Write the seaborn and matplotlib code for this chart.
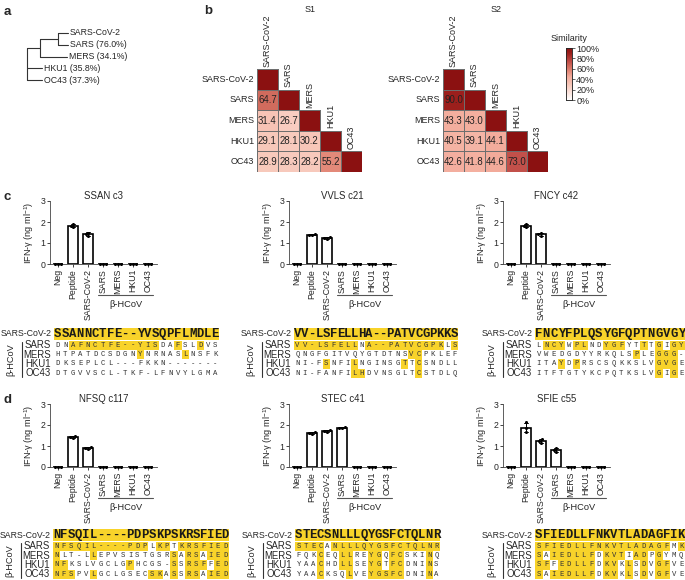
import numpy as np
import pandas as pd
import seaborn as sns
import matplotlib.pyplot as plt
from matplotlib.colors import LinearSegmentedColormap, ListedColormap, to_rgba
from matplotlib.transforms import blended_transform_factory

sns.set_style('ticks')
plt.rcParams['font.family'] = ['Liberation Sans', 'DejaVu Sans']
plt.rcParams['mathtext.fontset'] = 'custom'
plt.rcParams['mathtext.rm'] = 'Liberation Sans'
plt.rcParams['mathtext.default'] = 'regular'

# ---- a: tree (name, branch length, children) ----
tree = ('', 0, [
    ('', 13, [
        ('', 18, [('SARS-CoV-2', 10, []), ('SARS (76.0%)', 10, [])]),
        ('MERS (34.1%)', 27, []),
    ]),
    ('HKU1 (35.8%)', 15, []),
    ('OC43 (37.3%)', 15, []),
])

# ---- b: S1 / S2 similarity (lower triangle) ----
strains = ['SARS-CoV-2', 'SARS', 'MERS', 'HKU1', 'OC43']
s1_rows = [[100], [64.7, 100], [31.4, 26.7, 100], [29.1, 28.1, 30.2, 100],
           [28.9, 28.3, 28.2, 55.2, 100]]
s2_rows = [[100], [90.0, 100], [43.3, 43.0, 100], [40.5, 39.1, 44.1, 100],
           [42.6, 41.8, 44.6, 73.0, 100]]
sim_ticks = [0, 20, 40, 60, 80, 100]

# ---- c/d: IFN-g responses, 3 replicates per condition ----
conds = ['Neg', 'Peptide', 'SARS-CoV-2', 'SARS', 'MERS', 'HKU1', 'OC43']
z = [0, 0, 0]
ssan = [z, [1.74, 1.82, 1.90], [1.33, 1.42, 1.50], z, z, z, z]
vvls = [z, [1.36, 1.39, 1.42], [1.20, 1.25, 1.29], z, z, z, z]
fncy = [z, [1.75, 1.83, 1.90], [1.35, 1.42, 1.50], z, z, z, z]
nfsq = [z, [1.38, 1.43, 1.49], [0.88, 0.92, 0.97], z, z, z, z]
stec = [z, [1.58, 1.63, 1.68], [1.66, 1.70, 1.74], [1.84, 1.88, 1.92], z, z, z]
sfie = [z, [1.65, 1.87, 2.12], [1.15, 1.25, 1.33], [0.70, 0.80, 0.90], z, z, z]
bar_titles = ['SSAN c3', 'VVLS c21', 'FNCY c42', 'NFSQ c117', 'STEC c41', 'SFIE c55']
bar_data = [ssan, vvls, fncy, nfsq, stec, sfie]

# ---- alignments: ref, SARS, MERS, HKU1, OC43; '#' = highlighted ----
beta_rows = ['SARS', 'MERS', 'HKU1', 'OC43']
al_ssan = ['SSANNCTFE--YVSQPFLMDLE', 'DNAFNCTFE--YISDAFSLDVS', 'HTPATDCSDGNYNRNASLNSFK',
           'DKSEPLCL---FKKN-------', 'DTGVVSCL-TKF-LFNVYLGMA']
hl_ssan = ['..############..#..#..', '...........#.....#....',
           '......................', '......................']
al_vvls = ['VV-LSFELLHA--PATVCGPKKS', 'VV-LSFELLNA--PATVCGPKLS', 'QNGFGITVQYGTDTNSVCPKLEF',
           'NI-FSNFILNGINSGTTCSNDLL', 'NI-FANFILHDVNSGLTCSTDLQ']
hl_vvls = ['#########.###########.#', '................##.....',
           '....#...#......#.#.....', '........##.......#.....']
al_fncy = ['FNCYFPLQSYGFQPTNGVGY', 'LNCYWPLNDYGFYTTTGIGY', 'VWEDGDYYRKQLSPLEGGG-',
           'ITAYDPRSCSQKKSLVGVGE', 'ITFTGTYKCPQTKSLVGIGE']
hl_fncy = ['.###.##..###..#.#.##', '.............#..###.',
           '...#.#..........###.', '................#.#.']
al_nfsq = ['NFSQIL----PDPSKPSKRSFIED', 'NFSQIL----PDPLKPTKRSFIED', 'NLT-LLEPVSISTGSRSARSAIED',
           'NFKSLVGCLGPHCGS-SSRSFFED', 'NFSPVLGCLGSECSKASSRSAIED']
hl_nfsq = ['#############.##.#######', '#....#..........#.##.###',
           '##........#.....#.###.##', '###..#.......##.#.##.###']
al_stec = ['STECSNLLLQYGSFCTQLNR', 'STECANLLLQYGSFCTQLNR', 'FQKCEQLLREYGQFCSKINQ',
           'YAACHDLLSEYGTFCDNINS', 'YAACKSQLVEYGSFCDNINA']
hl_stec = ['####.###############', '...#..##..##.##...#.',
           '...#..##..##.##...#.', '...#...#..#####...#.']
al_sfie = ['SFIEDLLFNKVTLADAGFIK', 'SFIEDLLFNKVTLADAGFMK', 'SAIEDLLFDKVTIADPGYMQ',
           'SFFEDLLFDKVKLSDVGFVE', 'SAIEDLLFDKVKLSDVGFVE']
hl_sfie = ['##################.#', '#.######.###.##.#...',
           '##.#####.##.#.#.##..', '#.######.##.#.#.##..']

W, H = 685, 580
fig = plt.figure(figsize=(6.85, 5.8), dpi=100)


def rect(x0, y0, x1, y1):
    return [x0 / W, 1 - y1 / H, (x1 - x0) / W, (y1 - y0) / H]


fs = 6.3
for letter, (lx, ly) in zip('abcd', [(4, 12), (204, 11), (4, 197), (4, 400)]):
    fig.text(lx / W, 1 - ly / H, letter, fontsize=9.5, fontweight='bold', va='center')

# ---- a ----
ax = fig.add_axes(rect(20, 25, 200, 90))
leaf = [0]


def draw(node, x):
    name, length, kids = node
    x_end = x + length
    if kids:
        ys = [draw(k, x_end) for k in kids]
        ax.plot([x_end, x_end], [min(ys), max(ys)], color='#333', lw=0.8)
        y = (ys[0] + ys[-1]) / 2
    else:
        y = leaf[0]
        leaf[0] += 1
        ax.text(x_end + 2, y, name, va='center', fontsize=fs)
    if length:
        ax.plot([x, x_end], [y, y], color='#333', lw=0.8)
    return y


draw(tree, 7)
ax.set_xlim(0, 180)
ax.set_ylim(4.85, -0.68)
ax.axis('off')

# ---- b ----
sim_cmap = LinearSegmentedColormap.from_list('sim', [
    (0, '#ffffff'), (0.3, '#f7c6b8'), (0.44, '#f3ac9c'), (0.55, '#e48a7a'),
    (0.65, '#d06a5c'), (0.73, '#c2504a'), (0.9, '#9c1f1c'), (1, '#8b1111')])
cax = fig.add_axes(rect(566, 48, 572, 100))
for i, (rows, x0, title) in enumerate([(s1_rows, 257, 'S1'), (s2_rows, 443, 'S2')]):
    mat = np.full((5, 5), np.nan)
    for r, vals in enumerate(rows):
        mat[r, :len(vals)] = vals
    annot = [['' if (c >= r) else f'{mat[r, c]:.1f}' for c in range(5)] for r in range(5)]
    ax = fig.add_axes(rect(x0, 69, x0 + 105, 172))
    sns.heatmap(mat, mask=np.isnan(mat), cmap=sim_cmap, vmin=0, vmax=100,
                annot=np.array(annot), fmt='', linewidths=0.6, linecolor='#6e6e6e',
                xticklabels=False, yticklabels=strains, ax=ax,
                cbar=(i == 1), cbar_ax=cax if i == 1 else None,
                annot_kws={'size': 6.9, 'color': '#222'})
    # hide the borders of the masked upper cells
    mesh = ax.collections[0]
    edge = np.where(np.isnan(mat).ravel()[:, None], (0, 0, 0, 0), to_rgba('#6e6e6e'))
    mesh.set_edgecolor(edge)
    ax.tick_params(left=False, length=0, labelsize=fs + 0.2, pad=2)
    ax.set_yticklabels(strains, rotation=0)
    for j, name in enumerate(strains):
        ax.text(j + 0.5, j - 0.12, name, rotation=90, ha='center', va='bottom', fontsize=fs + 0.2)
    fig.text((x0 + 53) / W, 1 - 10 / H, title, ha='center', va='center', fontsize=fs + 0.2)
cax.set_yticks(sim_ticks)
cax.set_yticklabels([f'{t}%' for t in sim_ticks])
cax.tick_params(labelsize=fs + 0.2, length=2, width=0.5, pad=1)
cax.set_title('Similarity', fontsize=fs + 0.2, pad=5)
for s in cax.spines.values():
    s.set_visible(True)
    s.set_linewidth(0.5)

# ---- c / d bars ----
bar_pos = [(50, 201), (289, 201), (503, 201), (50, 404), (289, 404), (503, 404)]
for (x0, y0), title, reps in zip(bar_pos, bar_titles, bar_data):
    ax = fig.add_axes(rect(x0, y0, x0 + 107, y0 + 63))
    df = pd.DataFrame({'cond': np.repeat(conds, 3), 'val': np.ravel(reps)})
    sns.barplot(data=df, x='cond', y='val', order=conds, errorbar='sd', color='white',
                edgecolor='black', linewidth=1.2, width=0.65, capsize=0.3,
                err_kws={'color': 'black', 'linewidth': 0.7}, ax=ax)
    sns.swarmplot(data=df, x='cond', y='val', order=conds, color='black', size=2.2, ax=ax)
    for c in ax.collections:
        c.set_clip_on(False)
    ax.set_ylim(0, 3)
    ax.set_yticks([0, 1, 2, 3])
    ax.set_xlim(-0.55, 6.6)
    ax.set_xlabel('')
    ax.set_ylabel('IFN-γ (ng ml$^{-1}$)', fontsize=fs + 0.3, labelpad=3)
    ax.set_title(title, fontsize=fs + 0.6, pad=0)
    ax.tick_params(labelsize=fs, length=2, width=0.6, pad=1.5)
    ax.tick_params(axis='x', rotation=90)
    sns.despine(ax=ax)
    for s in ['left', 'bottom']:
        ax.spines[s].set_linewidth(0.6)
        ax.spines[s].set_color('#444')
    tr = blended_transform_factory(ax.transData, ax.transAxes)
    ax.plot([2.65, 6.35], [-0.49, -0.49], transform=tr, clip_on=False, color='#555', lw=0.8)
    ax.text(4.5, -0.65, 'β-HCoV', transform=tr, ha='center', va='center', fontsize=fs + 0.4)

# ---- c / d alignments ----
hl_cmap = ListedColormap(['white', '#f8d32a'])
al_pos = [(54, 219, 334), (294, 458, 334), (535, 685, 334),
          (53, 229, 535), (295, 440, 535), (535, 685, 535)]
for (x0, x1, yc), seqs, marks in zip(al_pos, [al_ssan, al_vvls, al_fncy, al_nfsq, al_stec, al_sfie],
                                     [hl_ssan, hl_vvls, hl_fncy, hl_nfsq, hl_stec, hl_sfie]):
    n = len(seqs[0])
    ax = fig.add_axes(rect(x0, yc - 6, x1, yc + 6))
    sns.heatmap(np.ones((1, n)), cmap=hl_cmap, vmin=0, vmax=1, annot=np.array([list(seqs[0])]),
                fmt='', cbar=False, xticklabels=False, yticklabels=['SARS-CoV-2'], ax=ax,
                annot_kws={'size': 8.8, 'family': 'Liberation Mono', 'weight': 'bold',
                           'color': '#1a1a1a'})
    ax.tick_params(left=False, length=0, labelsize=fs, pad=2)
    ax.set_yticklabels(['SARS-CoV-2'], rotation=0)

    ax = fig.add_axes(rect(x0, yc + 6.5, x1, yc + 44))
    hl = np.array([[ch == '#' for ch in m] for m in marks], dtype=float)
    sns.heatmap(hl, cmap=hl_cmap, vmin=0, vmax=1, annot=np.array([list(s) for s in seqs[1:]]),
                fmt='', cbar=False, xticklabels=False, yticklabels=beta_rows, ax=ax,
                annot_kws={'size': 5.2, 'family': 'Liberation Mono', 'color': '#333'})
    ax.tick_params(left=False, length=0, labelsize=fs + 0.6, pad=2)
    ax.set_yticklabels(beta_rows, rotation=0)
    w = x1 - x0
    ax.plot([-32 / w, -32 / w], [0.03, 0.97], transform=ax.transAxes, clip_on=False,
            color='#333', lw=0.8)
    ax.text(-43 / w, 0.5, 'β-HCoV', transform=ax.transAxes, rotation=90,
            ha='center', va='center', fontsize=fs + 0.3)

fig.savefig('out.png', dpi=100)
